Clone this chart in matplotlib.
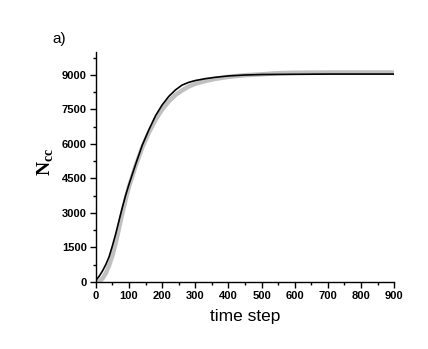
import matplotlib
matplotlib.use('Agg')
import matplotlib.pyplot as plt
from matplotlib.ticker import MultipleLocator

# ── Data ──────────────────────────────────────────────────────────────────────
t_model = [0, 10, 20, 30, 40, 50, 60, 70, 80, 90, 100, 120, 140, 160, 180, 200,
           220, 240, 260, 280, 300, 330, 360, 400, 450, 500, 600, 700, 800, 900]
n_model = [80, 250, 480, 760, 1100, 1580, 2100, 2680, 3250, 3780, 4250, 5120,
           5950, 6620, 7230, 7700, 8070, 8350, 8560, 8680, 8760, 8840, 8900,
           8960, 9000, 9020, 9030, 9040, 9040, 9040]

t_sim = [0, 10, 20, 30, 40, 50, 60, 70, 80, 90, 100, 120, 140, 160, 180, 200,
         220, 240, 260, 280, 300, 330, 360, 400, 450, 500, 550, 600, 700, 800, 900]
n_sim = [0, 30, 150, 380, 720, 1150, 1700, 2350, 3000, 3600, 4150, 5050, 5850,
         6500, 7050, 7500, 7850, 8130, 8330, 8500, 8620, 8740, 8830, 8920, 8990,
         9030, 9080, 9100, 9110, 9110, 9110]

x_ticks = [0, 100, 200, 300, 400, 500, 600, 700, 800, 900]
y_ticks = [0, 1500, 3000, 4500, 6000, 7500, 9000]

SANS = ['Liberation Sans', 'DejaVu Sans']
SERIF = ['Liberation Serif', 'DejaVu Serif']

plt.rcParams['mathtext.fontset'] = 'custom'
plt.rcParams['mathtext.rm'] = 'Liberation Serif'
plt.rcParams['mathtext.bf'] = 'Liberation Serif:bold'

# ── Draw ──────────────────────────────────────────────────────────────────────
fig = plt.figure(figsize=(4.28, 3.49), dpi=100, facecolor='white')
ax = fig.add_axes([0.224, 0.192, 0.697, 0.659])

ax.plot(t_sim, n_sim, color='#c0c0c0', lw=3.2, solid_capstyle='butt', zorder=2)
ax.plot(t_model, n_model, color='black', lw=1.2, zorder=3)

ax.set_xlim(0, 900)
ax.set_ylim(0, 10000)
ax.set_xticks(x_ticks)
ax.set_yticks(y_ticks)
ax.xaxis.set_minor_locator(MultipleLocator(50))
ax.yaxis.set_minor_locator(MultipleLocator(750))

for side in ('top', 'right'):
    ax.spines[side].set_visible(False)
for side in ('left', 'bottom'):
    ax.spines[side].set_linewidth(1.0)

ax.tick_params(which='major', direction='out', length=4, width=1.0, pad=2.5)
ax.tick_params(which='minor', direction='out', length=2, width=1.0)
for lab in ax.get_xticklabels() + ax.get_yticklabels():
    lab.set_family(SANS)
    lab.set_fontweight('bold')
    lab.set_fontsize(8)

ax.set_xlabel('time step', family=SANS, fontsize=12.5, labelpad=6)
ax.set_ylabel(r'N$_{\mathbf{cc}}$', family=SERIF, fontsize=14, fontweight='bold')
ax.yaxis.set_label_coords(-0.135, 0.52)

fig.text(0.122, 0.868, 'a)', family=SANS, fontsize=11, ha='left', va='bottom')

fig.savefig('out.png', dpi=100, facecolor='white')
